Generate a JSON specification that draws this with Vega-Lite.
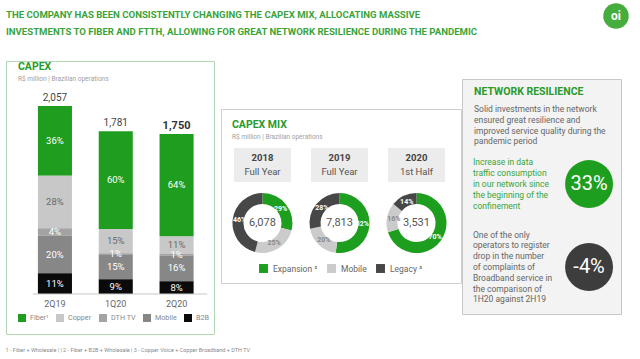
{
  "$schema": "https://vega.github.io/schema/vega-lite/v6.json",
  "background": "white",
  "padding": {"left": 5, "top": 0, "right": 0, "bottom": 0},
  "config": {
    "view": {"stroke": null},
    "font": "Roboto",
    "title": {"font": "Roboto", "fontWeight": "bold", "color": "#2a9a2a", "anchor": "start", "subtitleFont": "Roboto", "subtitleColor": "#a0a0a0", "subtitleFontWeight": "normal"}
  },
  "datasets": {
    "capex": [
      {"quarter": "2Q19", "type": "Fiber", "value": 762, "share": 36},
      {"quarter": "2Q19", "type": "Copper", "value": 576, "share": 28},
      {"quarter": "2Q19", "type": "DTH TV", "value": 82, "share": 4},
      {"quarter": "2Q19", "type": "Mobile", "value": 411, "share": 20},
      {"quarter": "2Q19", "type": "B2B", "value": 226, "share": 11},
      {"quarter": "1Q20", "type": "Fiber", "value": 1069, "share": 60},
      {"quarter": "1Q20", "type": "Copper", "value": 267, "share": 15},
      {"quarter": "1Q20", "type": "DTH TV", "value": 18, "share": 1},
      {"quarter": "1Q20", "type": "Mobile", "value": 267, "share": 15},
      {"quarter": "1Q20", "type": "B2B", "value": 160, "share": 9},
      {"quarter": "2Q20", "type": "Fiber", "value": 1120, "share": 64},
      {"quarter": "2Q20", "type": "Copper", "value": 193, "share": 11},
      {"quarter": "2Q20", "type": "DTH TV", "value": 17, "share": 1},
      {"quarter": "2Q20", "type": "Mobile", "value": 280, "share": 16},
      {"quarter": "2Q20", "type": "B2B", "value": 140, "share": 8}
    ],
    "periods": [
      {"period": "2018", "span": "Full Year", "total": 6078},
      {"period": "2019", "span": "Full Year", "total": 7813},
      {"period": "2020", "span": "1st Half", "total": 3531}
    ],
    "mix": [
      {"period": "2018", "segment": "Expansion", "pct": 29},
      {"period": "2018", "segment": "Mobile", "pct": 25},
      {"period": "2018", "segment": "Legacy", "pct": 46},
      {"period": "2019", "segment": "Expansion", "pct": 52},
      {"period": "2019", "segment": "Mobile", "pct": 20},
      {"period": "2019", "segment": "Legacy", "pct": 28},
      {"period": "2020", "segment": "Expansion", "pct": 70},
      {"period": "2020", "segment": "Mobile", "pct": 16},
      {"period": "2020", "segment": "Legacy", "pct": 14}
    ],
    "resilience": [
      {"metric": "traffic", "desc": ["Increase in data", "traffic consumption", "in our network since", "the beginning of the", "confinement"], "value": "33%"},
      {"metric": "complaints", "desc": ["One of the only", "operators to register", "drop in the number", "of complaints of", "Broadband service in", "the comparison of", "1H20 against 2H19"], "value": "-4%"}
    ]
  },
  "title": {"text": "1 - Fiber + Wholesale | | 2 - Fiber + B2B + Wholesale | 3 - Copper Voice + Copper Broadband + DTH TV", "orient": "bottom", "anchor": "start", "font": "Roboto", "fontSize": 5.5, "fontWeight": "normal", "color": "#8a8a8a", "offset": 12},
  "spacing": 18,
  "vconcat": [
    {
      "spacing": 7,
      "bounds": "flush",
      "hconcat": [
        {
          "width": 590, "height": 40,
          "view": {"stroke": "transparent"},
          "title": {"text": ["THE COMPANY HAS BEEN CONSISTENTLY CHANGING THE CAPEX MIX, ALLOCATING MASSIVE", "INVESTMENTS TO FIBER AND FTTH, ALLOWING FOR GREAT NETWORK RESILIENCE DURING THE PANDEMIC"], "fontSize": 9.6, "lineHeight": 16.7, "color": "#3aa43a", "frame": "group", "offset": -35.5},
          "data": {"values": [{}]},
          "mark": {"type": "point", "opacity": 0, "size": 1}
        },
        {
          "width": 26, "height": 30,
          "data": {"values": [{"brand": "oi"}]},
          "layer": [
            {"mark": {"type": "point", "filled": true, "size": 650, "color": "#45ad3c", "opacity": 1}, "encoding": {}},
            {"mark": {"type": "text", "fontSize": 12, "fontWeight": "bold", "color": "white"}, "encoding": {"text": {"field": "brand"}}}
          ]
        }
      ]
    },
    {
      "spacing": -2,
      "resolve": {"scale": {"color": "independent"}, "legend": {"color": "independent"}},
      "hconcat": [
        {
          "spacing": 0,
          "bounds": "flush",
          "resolve": {"scale": {"color": "independent"}, "legend": {"color": "independent"}},
          "vconcat": [
            {
              "width": 208, "height": 273,
              "view": {"stroke": "#b2d8b2", "fill": "white"},
              "title": {"text": "CAPEX", "subtitle": "R$ million | Brazilian operations", "frame": "group", "offset": -21.5, "dx": 12, "fontSize": 10.5, "subtitleFontSize": 6.5, "subtitlePadding": 3.6},
              "data": {"name": "capex"},
              "transform": [
                {"calculate": "indexof(['B2B','Mobile','DTH TV','Copper','Fiber'], datum.type)", "as": "stackIdx"},
                {"stack": "value", "groupby": ["quarter"], "sort": [{"field": "stackIdx", "order": "ascending"}], "as": ["v0", "v1"]},
                {"calculate": "(datum.v0 + datum.v1) / 2", "as": "vmid"},
                {"calculate": "datum.share + '%'", "as": "label"}
              ],
              "encoding": {
                "x": {"field": "quarter", "type": "nominal", "sort": ["2Q19", "1Q20", "2Q20"], "scale": {"paddingInner": 0.44, "paddingOuter": 0.43, "align": 0.61}, "axis": null}
              },
              "layer": [
                {
                  "mark": {"type": "bar"},
                  "encoding": {
                    "y": {"field": "v0", "type": "quantitative", "scale": {"domain": [-437.7, 2549.4], "nice": false, "zero": false}, "axis": null},
                    "y2": {"field": "v1"},
                    "color": {
                      "field": "type", "type": "nominal",
                      "scale": {"domain": ["Fiber", "Copper", "DTH TV", "Mobile", "B2B"], "range": ["#1f9d1f", "#c8c8c8", "#a3a3a3", "#878787", "#0a0a0a"]},
                      "legend": {"orient": "none", "legendX": 12, "legendY": 253, "direction": "horizontal", "title": null, "symbolType": "square", "symbolSize": 64, "symbolStrokeWidth": 0, "labelFontSize": 7.2, "labelColor": "#888", "columnPadding": 7, "labelOffset": 4, "labelExpr": "datum.label === 'Fiber' ? 'Fiber¹' : datum.label"}
                    }
                  }
                },
                {
                  "mark": {"type": "text", "fontSize": 9.5, "baseline": "middle"},
                  "encoding": {
                    "y": {"field": "vmid", "type": "quantitative"},
                    "text": {"field": "label"},
                    "color": {"condition": {"test": "datum.type === 'Copper'", "value": "#6a6a6a"}, "value": "white"}
                  }
                },
                {
                  "transform": [{"aggregate": [{"op": "sum", "field": "value", "as": "total"}], "groupby": ["quarter"]}, {"filter": "datum.quarter !== '2Q20'"}],
                  "mark": {"type": "text", "fontSize": 10, "color": "#444", "dy": -8},
                  "encoding": {"y": {"field": "total", "type": "quantitative"}, "text": {"field": "total", "type": "quantitative", "format": ","}}
                },
                {
                  "transform": [{"aggregate": [{"op": "sum", "field": "value", "as": "total"}], "groupby": ["quarter"]}, {"filter": "datum.quarter === '2Q20'"}],
                  "mark": {"type": "text", "fontSize": 11, "fontWeight": "bold", "color": "#333", "dy": -8},
                  "encoding": {"y": {"field": "total", "type": "quantitative"}, "text": {"field": "total", "type": "quantitative", "format": ","}}
                },
                {
                  "transform": [{"aggregate": [{"op": "count", "as": "n"}], "groupby": ["quarter"]}],
                  "mark": {"type": "text", "fontSize": 9, "color": "#666", "dy": 10},
                  "encoding": {"y": {"datum": 0, "type": "quantitative"}, "text": {"field": "quarter"}}
                },
                {
                  "transform": [{"aggregate": [{"op": "count", "as": "n"}]}],
                  "mark": {"type": "rule", "color": "#c8c8c8"},
                  "encoding": {
                    "x": {"datum": "2Q19", "bandPosition": -0.15},
                    "x2": {"datum": "2Q20", "bandPosition": 1.4},
                    "y": {"datum": 0, "type": "quantitative"}
                  }
                }
              ]
            },
            {"width": 214, "height": 1, "view": {"stroke": "transparent"}, "data": {"values": [{}]}, "mark": {"type": "point", "opacity": 0, "size": 1}}
          ]
        },
        {
          "spacing": 0,
          "bounds": "flush",
          "resolve": {"scale": {"color": "independent"}, "legend": {"color": "independent"}},
          "vconcat": [
            {"width": 240, "height": 48, "view": {"stroke": "transparent"}, "data": {"values": [{}]}, "mark": {"type": "point", "opacity": 0, "size": 1}},
            {
              "width": 240, "height": 174,
              "view": {"stroke": "#cfcfcf", "fill": "white"},
              "title": {"text": "CAPEX MIX", "subtitle": "R$ million | Brazilian operations", "frame": "group", "offset": -31, "dx": 11, "fontSize": 10.5, "subtitleFontSize": 6.5, "subtitlePadding": 3},
              "encoding": {
                "x": {"field": "period", "type": "nominal", "scale": {"domain": ["2018", "2019", "2020"], "paddingInner": 0.26, "paddingOuter": 0.188, "align": 0.448}, "axis": null}
              },
              "layer": [
                {
                  "data": {"name": "periods"},
                  "mark": {"type": "rect", "color": "#ececec"},
                  "encoding": {"y": {"datum": "header", "type": "nominal", "scale": {"type": "band", "domain": ["header", "donut"], "paddingInner": 0.414, "paddingOuter": 0.707, "align": 0.476}, "axis": null}}
                },
                {
                  "data": {"name": "periods"},
                  "mark": {"type": "text", "fontSize": 9.5, "fontWeight": "bold", "color": "#444", "dy": -7},
                  "encoding": {"y": {"datum": "header", "type": "nominal"}, "text": {"field": "period"}}
                },
                {
                  "data": {"name": "periods"},
                  "mark": {"type": "text", "fontSize": 9.5, "color": "#555", "dy": 7},
                  "encoding": {"y": {"datum": "header", "type": "nominal"}, "text": {"field": "span"}}
                },
                {
                  "data": {"name": "mix"},
                  "transform": [
                    {"calculate": "indexof(['Expansion','Mobile','Legacy'], datum.segment)", "as": "idx"},
                    {"stack": "pct", "groupby": ["period"], "sort": [{"field": "idx", "order": "ascending"}], "as": ["s0", "s1"]}
                  ],
                  "mark": {"type": "arc", "innerRadius": 19, "outerRadius": 30},
                  "encoding": {
                    "y": {"datum": "donut", "type": "nominal"},
                    "theta": {"field": "s0", "type": "quantitative", "stack": null, "scale": {"domain": [0, 100], "range": [0, 6.2832]}},
                    "theta2": {"field": "s1"},
                    "color": {
                      "field": "segment", "type": "nominal",
                      "scale": {"domain": ["Expansion", "Mobile", "Legacy"], "range": ["#1e9e1e", "#cbcbcb", "#474747"]},
                      "legend": {"orient": "none", "legendX": 38, "legendY": 155, "direction": "horizontal", "title": null, "symbolType": "square", "symbolSize": 80, "symbolStrokeWidth": 0, "labelFontSize": 8.5, "labelColor": "#666", "columnPadding": 9, "labelOffset": 5, "labelExpr": "datum.label === 'Expansion' ? 'Expansion ²' : datum.label === 'Legacy' ? 'Legacy ³' : datum.label"}
                    }
                  }
                },
                {
                  "data": {"name": "mix"},
                  "transform": [
                    {"calculate": "indexof(['Expansion','Mobile','Legacy'], datum.segment)", "as": "idx"},
                    {"stack": "pct", "groupby": ["period"], "sort": [{"field": "idx", "order": "ascending"}], "as": ["s0", "s1"]},
                    {"calculate": "(datum.s0 + datum.s1) / 2", "as": "smid"},
                    {"calculate": "datum.pct + '%'", "as": "label"}
                  ],
                  "mark": {"type": "text", "radius": 23, "fontSize": 7, "fontWeight": "bold"},
                  "encoding": {
                    "y": {"datum": "donut", "type": "nominal"},
                    "theta": {"field": "smid", "type": "quantitative", "stack": null},
                    "text": {"field": "label"},
                    "color": {"condition": {"test": "datum.segment === 'Mobile'", "value": "#888"}, "value": "white"}
                  }
                },
                {
                  "data": {"name": "periods"},
                  "mark": {"type": "text", "fontSize": 11, "color": "#555"},
                  "encoding": {"y": {"datum": "donut", "type": "nominal"}, "text": {"field": "total", "type": "quantitative", "format": ","}}
                }
              ]
            }
          ]
        },
        {
          "spacing": 0,
          "bounds": "flush",
          "vconcat": [
            {"width": 159, "height": 18, "view": {"stroke": "transparent"}, "data": {"values": [{}]}, "mark": {"type": "point", "opacity": 0, "size": 1}},
            {
              "width": 159, "height": 235,
              "view": {"stroke": "#c8c8c8", "fill": "#f3f3f3"},
              "title": {"text": "NETWORK RESILIENCE", "subtitle": ["Solid investments in the network", "ensured great resilience and", "improved service quality during the", "pandemic period"], "frame": "group", "offset": -67, "dx": 12, "fontSize": 10.5, "subtitleFontSize": 8.5, "subtitleColor": "#666", "subtitleLineHeight": 10.7, "subtitlePadding": 8},
              "data": {"name": "resilience"},
              "encoding": {
                "y": {"field": "metric", "type": "nominal", "sort": ["traffic", "complaints"], "scale": {"type": "point", "padding": 0.916, "align": 0.691}, "axis": null}
              },
              "layer": [
                {
                  "transform": [{"filter": "datum.metric === 'traffic'"}],
                  "mark": {"type": "text", "align": "left", "baseline": "middle", "fontSize": 8.5, "lineHeight": 10.8, "color": "#3aa53a", "dy": -21.6},
                  "encoding": {
                    "x": {"datum": "text", "type": "nominal", "scale": {"type": "point", "domain": ["text", "value"], "padding": 0.185, "align": 0.256}, "axis": null},
                    "text": {"field": "desc"}
                  }
                },
                {
                  "transform": [{"filter": "datum.metric === 'complaints'"}],
                  "mark": {"type": "text", "align": "left", "baseline": "middle", "fontSize": 8.5, "lineHeight": 10.8, "color": "#666", "dy": -32.4},
                  "encoding": {
                    "x": {"datum": "text", "type": "nominal"},
                    "text": {"field": "desc"}
                  }
                },
                {
                  "mark": {"type": "point", "filled": true, "size": 2300, "opacity": 1},
                  "encoding": {
                    "x": {"datum": "value", "type": "nominal"},
                    "color": {"condition": {"test": "datum.metric === 'traffic'", "value": "#1e9e1e"}, "value": "#3d3d3d"}
                  }
                },
                {
                  "mark": {"type": "text", "fontSize": 20, "color": "white"},
                  "encoding": {"x": {"datum": "value", "type": "nominal"}, "text": {"field": "value"}}
                }
              ]
            }
          ]
        }
      ]
    }
  ]
}
